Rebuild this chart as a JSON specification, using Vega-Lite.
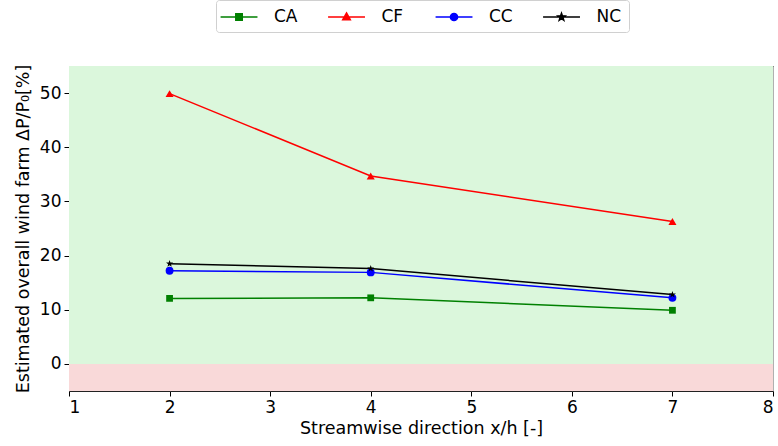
{
  "$schema": "https://vega.github.io/schema/vega-lite/v6.json",
  "width": 704,
  "height": 325,
  "autosize": {"type": "none"},
  "padding": {"left": 69, "top": 66, "right": 5, "bottom": 55},
  "config": {
    "font": "DejaVu Sans",
    "view": {"stroke": "#222222", "strokeWidth": 1},
    "axis": {
      "labelFontSize": 17,
      "titleFontSize": 17.5,
      "titleFontWeight": "normal",
      "labelColor": "#000000",
      "titleColor": "#000000",
      "tickColor": "#000000",
      "tickSize": 5,
      "labelPadding": 3,
      "domain": false,
      "grid": true,
      "gridColor": "#b0b0b0",
      "gridWidth": 1,
      "zindex": 1
    }
  },
  "datasets": {
    "bands": [
      {"x": 1, "x2": 8, "y": 0, "y2": 55, "zone": "pos"},
      {"x": 1, "x2": 8, "y": -5, "y2": 0, "zone": "neg"}
    ],
    "d": [
      {"series": "CA", "x": 2, "y": 12.1},
      {"series": "CA", "x": 4, "y": 12.2},
      {"series": "CA", "x": 7, "y": 9.9},
      {"series": "CF", "x": 2, "y": 49.9},
      {"series": "CF", "x": 4, "y": 34.7},
      {"series": "CF", "x": 7, "y": 26.3},
      {"series": "CC", "x": 2, "y": 17.2},
      {"series": "CC", "x": 4, "y": 16.9},
      {"series": "CC", "x": 7, "y": 12.2},
      {"series": "NC", "x": 2, "y": 18.5},
      {"series": "NC", "x": 4, "y": 17.6},
      {"series": "NC", "x": 7, "y": 12.8}
    ]
  },
  "layer": [
    {
      "data": {"name": "bands"},
      "mark": {"type": "rect"},
      "encoding": {
        "x": {"field": "x", "type": "quantitative", "scale": {"domain": [1, 8], "nice": false},
              "axis": {"values": [1,2,3,4,5,6,7,8], "format": "d", "title": "Streamwise direction x/h [-]", "titlePadding": 4}},
        "x2": {"field": "x2"},
        "y": {"field": "y", "type": "quantitative", "scale": {"domain": [-5, 55], "nice": false},
              "axis": {"values": [0,10,20,30,40,50], "title": "Estimated overall wind farm ΔP/P₀[%]", "titlePadding": 7}},
        "y2": {"field": "y2"},
        "fill": {"field": "zone", "type": "nominal", "scale": {"domain": ["pos", "neg"], "range": ["#dbf7dc", "#f9d9d9"]}, "legend": null}
      }
    },
    {
      "data": {"name": "d"},
      "mark": {"type": "line", "strokeWidth": 1.5},
      "encoding": {
        "x": {"field": "x", "type": "quantitative"},
        "y": {"field": "y", "type": "quantitative"},
        "color": {"field": "series", "type": "nominal", "scale": {"domain": ["CA", "CF", "CC", "NC"], "range": ["#008000", "#ff0000", "#0000ff", "#000000"]}}
      }
    },
    {
      "data": {"name": "d"},
      "transform": [{"filter": "datum.series == 'CA'"}],
      "mark": {"type": "point", "filled": true, "shape": "square", "size": 46, "opacity": 1},
      "encoding": {
        "x": {"field": "x", "type": "quantitative"},
        "y": {"field": "y", "type": "quantitative"},
        "color": {"field": "series", "type": "nominal"}
      }
    },
    {
      "data": {"name": "d"},
      "transform": [{"filter": "datum.series == 'CF'"}],
      "mark": {"type": "point", "filled": true, "shape": "triangle-up", "size": 65, "opacity": 1},
      "encoding": {
        "x": {"field": "x", "type": "quantitative"},
        "y": {"field": "y", "type": "quantitative"},
        "color": {"field": "series", "type": "nominal"}
      }
    },
    {
      "data": {"name": "d"},
      "transform": [{"filter": "datum.series == 'CC'"}],
      "mark": {"type": "point", "filled": true, "shape": "circle", "size": 62, "opacity": 1},
      "encoding": {
        "x": {"field": "x", "type": "quantitative"},
        "y": {"field": "y", "type": "quantitative"},
        "color": {"field": "series", "type": "nominal"}
      }
    },
    {
      "data": {"name": "d"},
      "transform": [{"filter": "datum.series == 'NC'"}],
      "mark": {"type": "point", "filled": true, "shape": "M0,-1L0.235,-0.324L0.951,-0.309L0.38,0.124L0.588,0.809L0,0.4L-0.588,0.809L-0.38,0.124L-0.951,-0.309L-0.235,-0.324Z", "size": 55, "opacity": 1},
      "encoding": {
        "x": {"field": "x", "type": "quantitative"},
        "y": {"field": "y", "type": "quantitative"},
        "color": {"field": "series", "type": "nominal"}
      }
    },
    {
      "data": {"name": "d"},
      "transform": [{"filter": "datum.x > 100"}],
      "mark": {"type": "point", "filled": true, "size": 324, "opacity": 1},
      "encoding": {
        "x": {"field": "x", "type": "quantitative"},
        "y": {"field": "y", "type": "quantitative"},
        "color": {
          "field": "series", "type": "nominal",
          "legend": {
            "orient": "none", "legendX": 147, "legendY": -66, "direction": "horizontal",
            "title": null, "fillColor": "#ffffff", "strokeColor": "#d0d0d0", "cornerRadius": 3,
            "padding": 7, "labelFontSize": 17, "labelColor": "#000000", "labelOffset": 31,
            "columnPadding": 25.5, "gridAlign": "all", "symbolSize": 324, "symbolStrokeWidth": 1.5,
            "symbolOpacity": 1,
            "encode": {"symbols": {"update": {"stroke": {"scale": "color", "field": "value"}, "strokeWidth": {"value": 1.5}, "opacity": {"value": 1}}}}
          }
        },
        "shape": {
          "field": "series", "type": "nominal",
          "scale": {
            "domain": ["CA", "CF", "CC", "NC"],
            "range": [
              "M-1.38,0L2.72,0M0.31,-0.36L1.03,-0.36L1.03,0.36L0.31,0.36Z",
              "M-1.38,0L2.72,0M0.667,-0.45L1.087,0.3L0.247,0.3Z",
              "M-1.38,0L2.72,0M0.267,0A0.4,0.4 0 1,1 1.067,0A0.4,0.4 0 1,1 0.267,0Z",
              "M-1.38,0L2.72,0M0.667,-0.42L0.767,-0.138L1.066,-0.13L0.829,0.053L0.914,0.34L0.667,0.17L0.42,0.34L0.505,0.053L0.268,-0.13L0.567,-0.138Z"
            ]
          }
        }
      }
    }
  ]
}
